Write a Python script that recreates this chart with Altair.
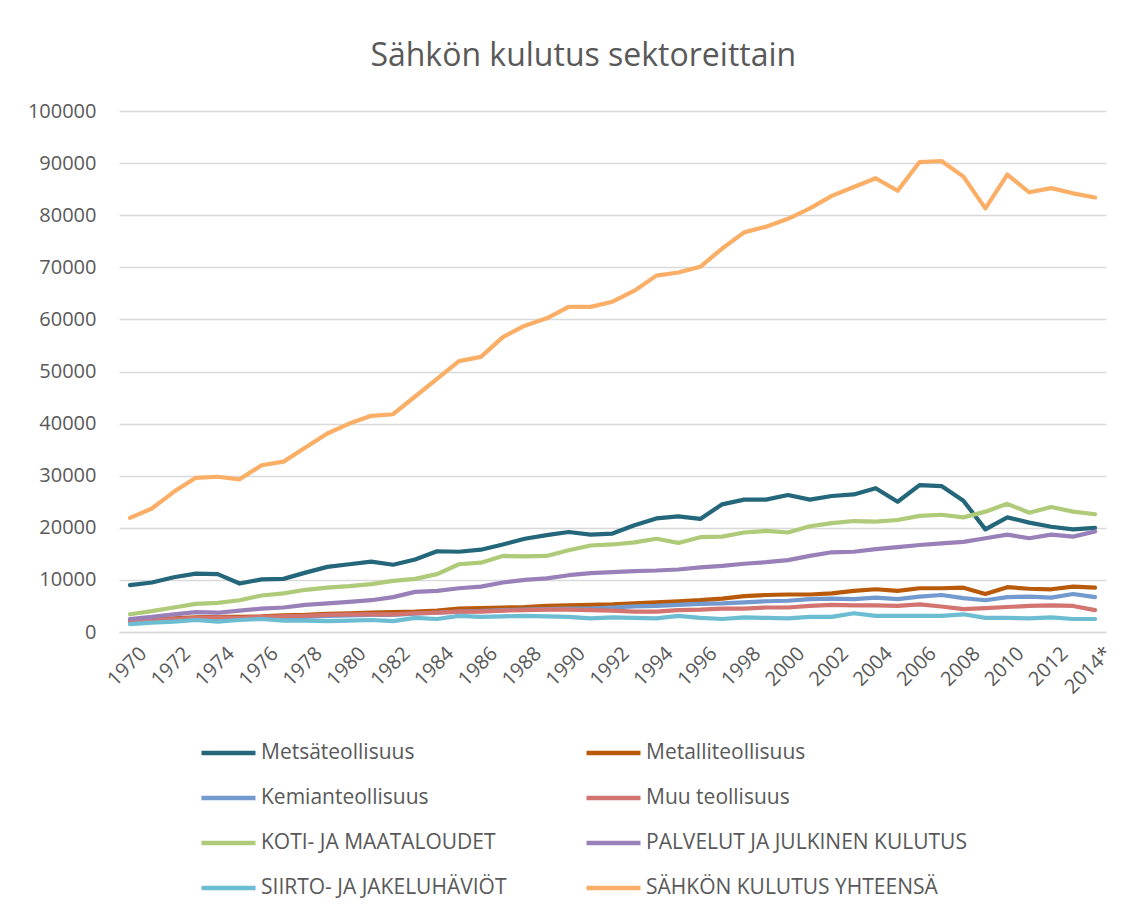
import altair as alt
import pandas as pd

years = list(range(1970, 2015))

series_names = [
    "Metsäteollisuus",
    "Metalliteollisuus",
    "Kemianteollisuus",
    "Muu teollisuus",
    "KOTI- JA MAATALOUDET",
    "PALVELUT JA JULKINEN KULUTUS",
    "SIIRTO- JA JAKELUHÄVIÖT",
    "SÄHKÖN KULUTUS YHTEENSÄ",
]

series_colors = [
    "#24677A", "#B95A0B", "#729ACE", "#D37471",
    "#AFCA78", "#9A80B8", "#6CBDD2", "#FBAE66",
]

metsa = [9000, 9500, 10500, 11200, 11100, 9300, 10100, 10200, 11400, 12500,
         13000, 13500, 12900, 13900, 15500, 15400, 15800, 16800, 17900, 18600,
         19200, 18700, 18900, 20500, 21800, 22200, 21700, 24500, 25400, 25400,
         26300, 25400, 26100, 26400, 27600, 25000, 28200, 28000, 25200, 19700,
         22000, 21000, 20200, 19700, 20000]

metalli = [2300, 2400, 2600, 2800, 2900, 2900, 3000, 3200, 3300, 3500,
           3600, 3700, 3800, 3900, 4100, 4500, 4600, 4700, 4800, 5000,
           5100, 5200, 5300, 5500, 5700, 5900, 6100, 6400, 6900, 7100,
           7200, 7200, 7400, 7900, 8200, 7900, 8400, 8400, 8500, 7300,
           8600, 8300, 8200, 8700, 8500]

kemia = [1900, 2100, 2300, 2500, 2600, 2500, 2700, 2800, 2900, 3100,
         3200, 3300, 3300, 3500, 3700, 3900, 4000, 4200, 4300, 4400,
         4500, 4500, 4700, 4900, 5000, 5200, 5400, 5500, 5700, 5900,
         6000, 6300, 6400, 6300, 6600, 6300, 6800, 7100, 6500, 6100,
         6700, 6800, 6600, 7300, 6700]

muu = [2100, 2300, 2500, 2700, 2800, 2700, 2900, 3000, 3100, 3300,
       3400, 3400, 3400, 3600, 3700, 3900, 3900, 4100, 4200, 4300,
       4300, 4200, 4100, 3900, 3900, 4200, 4300, 4500, 4500, 4700,
       4700, 5000, 5200, 5100, 5100, 5000, 5300, 4900, 4400, 4600,
       4800, 5000, 5100, 5000, 4200]

koti = [3400, 4000, 4700, 5400, 5600, 6100, 7000, 7400, 8100, 8500,
        8800, 9200, 9800, 10200, 11100, 13000, 13300, 14600, 14500, 14600,
        15700, 16600, 16800, 17200, 17900, 17100, 18200, 18300, 19100, 19400,
        19100, 20300, 20900, 21300, 21200, 21500, 22300, 22500, 22000, 23100,
        24600, 22900, 24000, 23100, 22600]

palvelut = [2500, 2900, 3400, 3800, 3700, 4100, 4500, 4700, 5200, 5500,
            5800, 6100, 6700, 7700, 7900, 8400, 8700, 9500, 10000, 10300,
            10900, 11300, 11500, 11700, 11800, 12000, 12400, 12700, 13100, 13400,
            13800, 14600, 15300, 15400, 15900, 16300, 16700, 17000, 17300, 18000,
            18700, 18000, 18700, 18300, 19300]

siirto = [1500, 1800, 2000, 2300, 2000, 2300, 2500, 2200, 2200, 2100,
          2200, 2300, 2100, 2700, 2500, 3100, 2900, 3000, 3100, 3000,
          2900, 2600, 2800, 2700, 2600, 3100, 2700, 2500, 2800, 2700,
          2600, 2900, 2900, 3600, 3100, 3100, 3100, 3100, 3400, 2700,
          2700, 2600, 2800, 2500, 2500]

yhteensa = [21900, 23700, 26900, 29600, 29800, 29300, 32000, 32700, 35400, 38100,
            40000, 41500, 41800, 45200, 48600, 52000, 52800, 56600, 58800, 60200,
            62400, 62400, 63400, 65500, 68400, 69000, 70100, 73600, 76700, 77800,
            79300, 81300, 83700, 85400, 87100, 84700, 90200, 90400, 87400, 81300,
            87800, 84400, 85200, 84200, 83400]

all_values = [metsa, metalli, kemia, muu, koti, palvelut, siirto, yhteensa]

rows = []
for idx, (name, vals) in enumerate(zip(series_names, all_values)):
    for yr, v in zip(years, vals):
        rows.append({"Vuosi": yr, "Sarja": name, "GWh": v, "jarj": idx})
df = pd.DataFrame(rows)

FONT = "Open Sans"
TXT = "#595959"
GRID = "#D9D9D9"

chart = alt.Chart(df).mark_line(
    strokeWidth=4.2, strokeCap="round", strokeJoin="round"
).encode(
    x=alt.X(
        "Vuosi:Q",
        scale=alt.Scale(domain=[1969.5, 2014.5], nice=False, zero=False),
        axis=alt.Axis(
            values=list(range(1970, 2015, 2)),
            format="d",
            labelExpr="datum.value == 2014 ? '2014*' : datum.label",
            labelAngle=-45,
            labelAlign="right",
            labelBaseline="top",
            labelOffset=6,
            title=None,
            grid=False,
            ticks=False,
            domainColor=GRID,
            domainWidth=1.5,
            labelFontSize=20,
            labelColor=TXT,
            labelFont=FONT,
            labelPadding=11,
            labelOverlap=False,
        ),
    ),
    y=alt.Y(
        "GWh:Q",
        scale=alt.Scale(domain=[0, 100000], nice=False),
        axis=alt.Axis(
            values=list(range(0, 100001, 10000)),
            format="d",
            title=None,
            ticks=False,
            domain=False,
            gridColor=GRID,
            gridWidth=1.5,
            labelPadding=23,
            labelFontSize=20,
            labelColor=TXT,
            labelFont=FONT,
        ),
    ),
    color=alt.Color(
        "Sarja:N",
        scale=alt.Scale(domain=series_names, range=series_colors),
        legend=alt.Legend(
            title=None,
            orient="none",
            direction="horizontal",
            legendX=80,
            legendY=630,
            columns=2,
            symbolType="stroke",
            symbolSize=2916,
            symbolStrokeWidth=4.5,
            clipHeight=24,
            rowPadding=21,
            columnPadding=77,
            labelOffset=3,
            labelFontSize=21,
            labelFont=FONT,
            labelColor=TXT,
            labelLimit=500,
        ),
    ),
    order=alt.Order("jarj:Q"),
).properties(
    width=987,
    height=521,
    padding={"left": 19, "top": 32, "right": 4, "bottom": 0},
    title=alt.TitleParams(
        "Sähkön kulutus sektoreittain",
        fontSize=32,
        font=FONT,
        fontWeight="normal",
        color=TXT,
        anchor="middle",
        frame="bounds",
        offset=28,
        dx=12,
    ),
).configure_view(stroke=None)

chart.save("out.html", embed_options={"renderer": "svg", "actions": False})
